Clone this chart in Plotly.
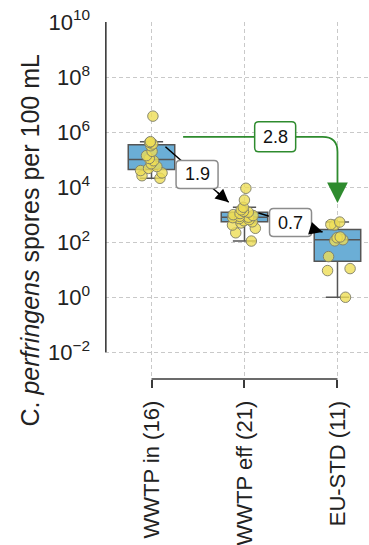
import plotly.graph_objects as go

# C. perfringens spore counts (spores per 100 mL)
wwtp_in = [2.1e4, 2.6e4, 3.3e4, 4.0e4, 4.8e4, 5.6e4, 7.1e4, 9.1e4,
           1.1e5, 1.4e5, 2.0e5, 3.2e5, 3.7e5, 4.2e5, 4.5e5, 3.8e6]
wwtp_eff = [110, 220, 320, 420, 500, 550, 600, 660, 720, 780, 810,
            870, 930, 1000, 1100, 1230, 1320, 1500, 1860, 3400, 9100]
eu_std = [1.0, 9.3, 11, 30, 112, 123, 145, 155, 420, 440, 540]

group_names = ["WWTP in", "WWTP eff", "EU-STD"]
groups = [wwtp_in, wwtp_eff, eu_std]

# log10 reductions shown on the arrows
reduction_labels = ["1.9", "0.7", "2.8"]

y_tick_exponents = [-2, 0, 2, 4, 6, 8, 10]

FONT = "Liberation Sans, Arial, sans-serif"
BOX_FILL = "#6baed6"
BOX_LINE = "#555555"
POINT_FILL = "rgba(238,221,86,0.8)"
POINT_EDGE = "rgba(125,125,105,0.9)"
GRID = "#c9c9c9"
SPINE = "#3a3a3a"
GREEN = "#2e8b2e"
LABEL_EDGE = "#8c8c8c"

X_RANGE = [-0.5, 2.339]
Y_LOG_RANGE = [-2.97, 10]

fig = go.Figure()

# left spine over the labelled decades (drawn on the linear log10 overlay axis)
spine_x = X_RANGE[0] + 0.009
fig.add_trace(go.Scatter(
    x=[spine_x, spine_x], y=[y_tick_exponents[0], y_tick_exponents[-1]],
    xaxis="x", yaxis="y2", mode="lines",
    line=dict(color=SPINE, width=1.6), hoverinfo="skip", showlegend=False,
))

for i, (name, vals) in enumerate(zip(group_names, groups)):
    fig.add_trace(go.Box(
        y=vals, x0=i, name=name, width=0.5,
        boxpoints="all", jitter=0.7, pointpos=0,
        quartilemethod="inclusive", whiskerwidth=0.5,
        fillcolor=BOX_FILL,
        line=dict(color=BOX_LINE, width=1.5),
        marker=dict(size=10.5, color=POINT_FILL,
                    line=dict(color=POINT_EDGE, width=1)),
    ))

tick_text = [f"{g} ({len(v)})" for g, v in zip(group_names, groups)]

shapes = []
annotations = []

# trimmed bottom spine between the outer categories
shapes.append(dict(type="line", xref="x", x0=0, x1=len(groups) - 1,
                   yref="paper", y0=0, y1=0,
                   line=dict(color=SPINE, width=1.5)))


def rounded_box(cx, cy, w, h, r, color):
    hw, hh = w / 2, h / 2
    path = (f"M {-hw + r},{-hh} L {hw - r},{-hh} Q {hw},{-hh} {hw},{-hh + r} "
            f"L {hw},{hh - r} Q {hw},{hh} {hw - r},{hh} L {-hw + r},{hh} "
            f"Q {-hw},{hh} {-hw},{hh - r} L {-hw},{-hh + r} Q {-hw},{-hh} {-hw + r},{-hh} Z")
    return dict(type="path", xref="x", yref="y2", xsizemode="pixel",
                ysizemode="pixel", xanchor=cx, yanchor=cy, path=path,
                fillcolor="white", line=dict(color=color, width=1.5))


def arrow_head(tip, start, color, size):
    tx, ty = tip
    sx, sy = start
    return dict(x=tx, y=ty, xref="x", yref="y2",
                ax=tx - 0.2 * (tx - sx), ay=ty - 0.2 * (ty - sy),
                axref="x", ayref="y2", text="", showarrow=True,
                arrowhead=2, arrowsize=size, arrowwidth=1.5,
                arrowcolor=color)


# straight black arrows between neighbouring groups (x, log10 y)
black_arrows = [((0.15, 5.47), (0.83, 3.45)),
                ((1.15, 3.06), (1.84, 2.37))]
for (start, tip), label in zip(black_arrows, reduction_labels[:2]):
    shapes.append(dict(type="line", xref="x", yref="y2",
                       x0=start[0], y0=start[1], x1=tip[0], y1=tip[1],
                       line=dict(color="black", width=1.5)))
    annotations.append(arrow_head(tip, start, "black", 1.75))
    cx, cy = (start[0] + tip[0]) / 2, (start[1] + tip[1]) / 2
    shapes.append(rounded_box(cx, cy, 42, 28, 4, LABEL_EDGE))
    annotations.append(dict(x=cx, y=cy, xref="x", yref="y2", text=label,
                            showarrow=False,
                            font=dict(family=FONT, size=18, color="#111")))

# green elbow arrow from influent to the EU standard
g_start = (0.34, 5.83)
g_tip = (2.0, 3.42)
corner_dx, corner_dy = 0.16, 0.54
green_path = (f"M {g_start[0]},{g_start[1]} L {g_tip[0] - corner_dx},{g_start[1]} "
              f"Q {g_tip[0]},{g_start[1]} {g_tip[0]},{g_start[1] - corner_dy} "
              f"L {g_tip[0]},{g_tip[1] + 0.3}")
shapes.append(dict(type="path", xref="x", yref="y2", path=green_path,
                   line=dict(color=GREEN, width=1.8)))
annotations.append(dict(x=g_tip[0], y=g_tip[1], xref="x", yref="y2",
                        ax=g_tip[0], ay=g_tip[1] + 0.6, axref="x", ayref="y2",
                        text="", showarrow=True, arrowhead=2, arrowsize=2.3,
                        arrowwidth=1.8, arrowcolor=GREEN))
g_label = (1.33, g_start[1])
shapes.append(rounded_box(g_label[0], g_label[1], 41, 30, 4, GREEN))
annotations.append(dict(x=g_label[0], y=g_label[1], xref="x", yref="y2",
                        text=reduction_labels[2], showarrow=False,
                        font=dict(family=FONT, size=18, color="#111")))

# y axis title
annotations.append(dict(xref="paper", yref="paper", x=-0.284, y=0.388,
                        xanchor="center", yanchor="middle", textangle=-90,
                        text="C. <i>perfringens</i> spores per 100 mL",
                        showarrow=False,
                        font=dict(family=FONT, size=25, color="#222")))

fig.update_layout(
    width=369, height=545, autosize=False,
    margin=dict(l=105, r=0, t=22, b=162, pad=0),
    paper_bgcolor="white", plot_bgcolor="white",
    showlegend=False,
    font=dict(family=FONT, color="#222"),
    xaxis=dict(
        range=X_RANGE, tickvals=list(range(len(groups))),
        ticktext=tick_text, tickangle=-90,
        showgrid=True, gridcolor=GRID, gridwidth=1, griddash="4px,3px",
        zeroline=False, showline=False,
        ticks="outside", ticklen=8, tickwidth=1.5, tickcolor=SPINE,
        ticklabelstandoff=4,
        tickfont=dict(family=FONT, size=22, color="#222"),
    ),
    yaxis=dict(
        type="log", range=Y_LOG_RANGE,
        tickvals=[10.0 ** e for e in y_tick_exponents],
        ticktext=[f"10<sup>{str(e).replace('-', '−')}</sup>" for e in y_tick_exponents],
        showgrid=True, gridcolor=GRID, gridwidth=1, griddash="4px,3px",
        zeroline=False, showline=False,
        ticks="", ticklabelstandoff=14,
        tickfont=dict(family=FONT, size=22, color="#222"),
    ),
    yaxis2=dict(overlaying="y", range=Y_LOG_RANGE, visible=False,
                anchor="x"),
    shapes=shapes,
    annotations=annotations,
)

fig.write_html("out.html")
